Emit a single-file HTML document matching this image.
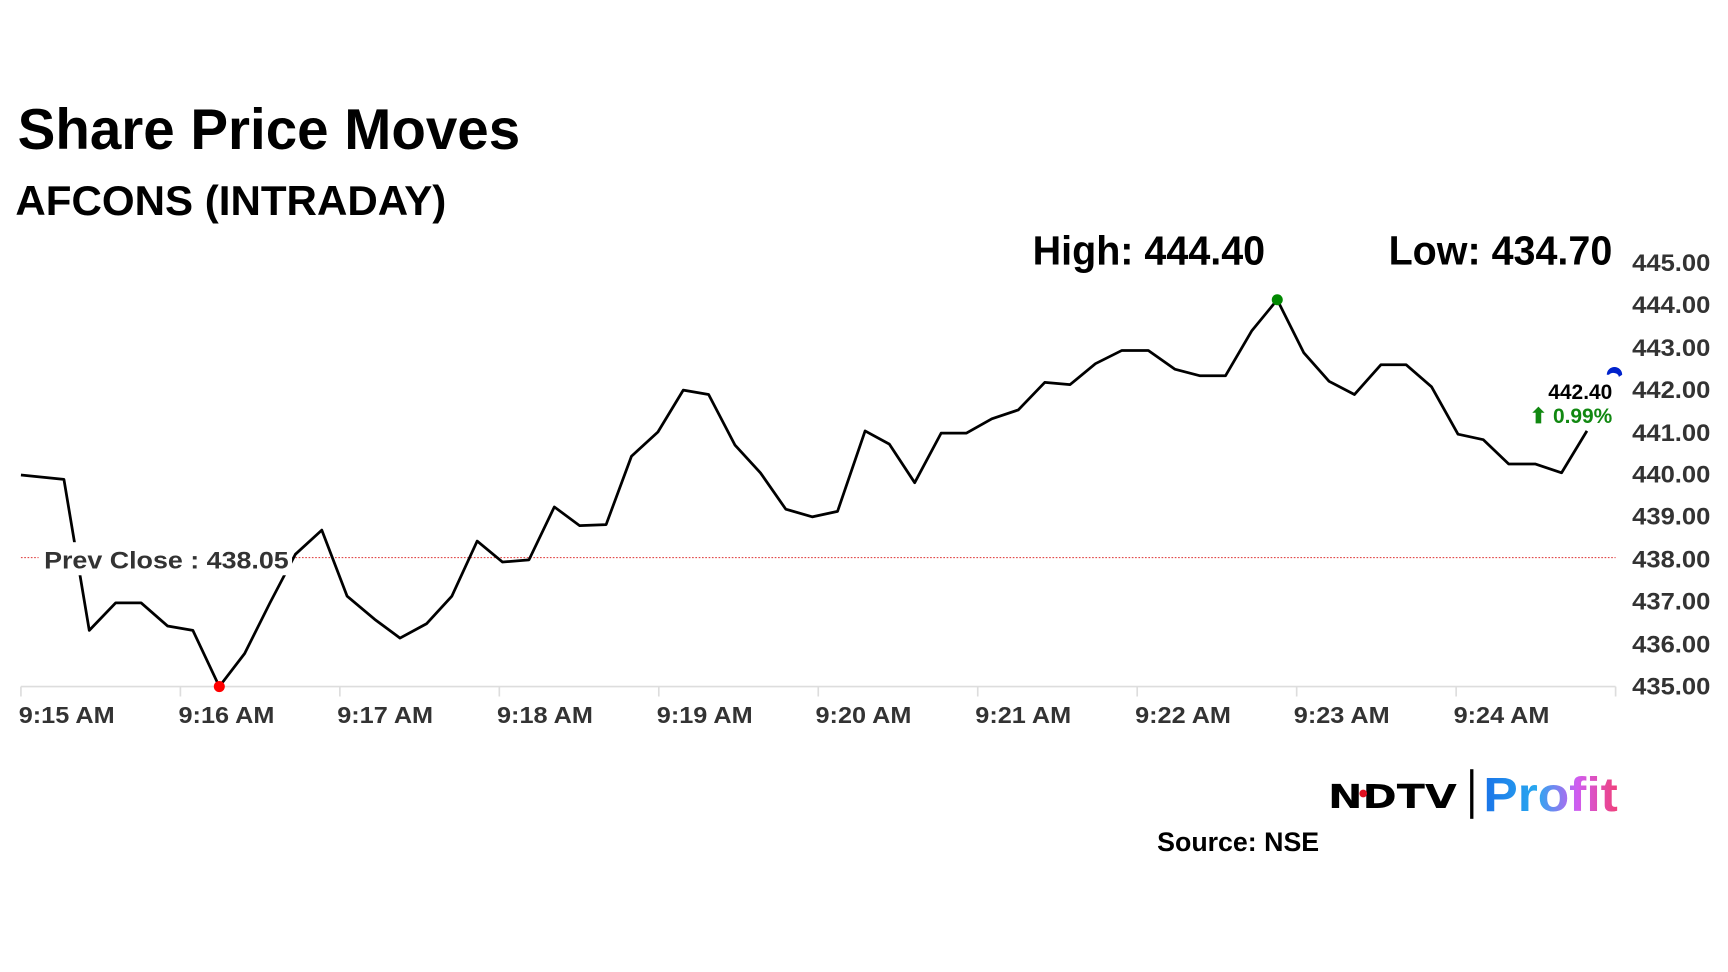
<!DOCTYPE html>
<html><head><meta charset="utf-8"><style>
html,body{margin:0;padding:0;background:#fff;width:1728px;height:972px;overflow:hidden}
svg{display:block}
text{font-family:"Liberation Sans",sans-serif;font-weight:bold}
</style></head><body>
<svg width="1728" height="972" viewBox="0 0 1568 882" xmlns="http://www.w3.org/2000/svg">
<defs><linearGradient id="g" x1="0" x2="1" y1="0" y2="0"><stop offset="0" stop-color="#1a73e8"/><stop offset="0.4" stop-color="#29a9f0"/><stop offset="0.7" stop-color="#d05cf0"/><stop offset="1" stop-color="#f0407a"/></linearGradient></defs>
<rect width="1568" height="882" fill="#fff"/>
<text x="16" y="135" font-size="52" textLength="456" lengthAdjust="spacingAndGlyphs" fill="#000">Share Price Moves</text>
<text x="14" y="195" font-size="38" textLength="391" lengthAdjust="spacingAndGlyphs" fill="#000">AFCONS (INTRADAY)</text>
<text x="937" y="240" font-size="37" textLength="211" lengthAdjust="spacingAndGlyphs" fill="#000">High: 444.40</text>
<text x="1260" y="240" font-size="37" textLength="203" lengthAdjust="spacingAndGlyphs" fill="#000">Low: 434.70</text>
<g font-size="22" fill="#333">
<text x="1481" y="246" textLength="71" lengthAdjust="spacingAndGlyphs">445.00</text><text x="1481" y="284" textLength="71" lengthAdjust="spacingAndGlyphs">444.00</text><text x="1481" y="323" textLength="71" lengthAdjust="spacingAndGlyphs">443.00</text><text x="1481" y="361" textLength="71" lengthAdjust="spacingAndGlyphs">442.00</text><text x="1481" y="400" textLength="71" lengthAdjust="spacingAndGlyphs">441.00</text><text x="1481" y="438" textLength="71" lengthAdjust="spacingAndGlyphs">440.00</text><text x="1481" y="476" textLength="71" lengthAdjust="spacingAndGlyphs">439.00</text><text x="1481" y="515" textLength="71" lengthAdjust="spacingAndGlyphs">438.00</text><text x="1481" y="553" textLength="71" lengthAdjust="spacingAndGlyphs">437.00</text><text x="1481" y="592" textLength="71" lengthAdjust="spacingAndGlyphs">436.00</text><text x="1481" y="630" textLength="71" lengthAdjust="spacingAndGlyphs">435.00</text>
</g>
<line x1="19" y1="623" x2="1466" y2="623" stroke="#ddd" stroke-width="1.5"/>
<g stroke="#ddd" stroke-width="1.5">
<line x1="19" y1="623" x2="19" y2="632"/><line x1="163.7" y1="623" x2="163.7" y2="632"/><line x1="308.4" y1="623" x2="308.4" y2="632"/><line x1="453.1" y1="623" x2="453.1" y2="632"/><line x1="597.8" y1="623" x2="597.8" y2="632"/><line x1="742.5" y1="623" x2="742.5" y2="632"/><line x1="887.2" y1="623" x2="887.2" y2="632"/><line x1="1031.9" y1="623" x2="1031.9" y2="632"/><line x1="1176.6" y1="623" x2="1176.6" y2="632"/><line x1="1321.3" y1="623" x2="1321.3" y2="632"/><line x1="1466" y1="623" x2="1466" y2="632"/>
</g>
<g font-size="21" fill="#333">
<text x="17" y="656" textLength="87" lengthAdjust="spacingAndGlyphs">9:15 AM</text>
<text x="162" y="656" textLength="87" lengthAdjust="spacingAndGlyphs">9:16 AM</text>
<text x="306" y="656" textLength="87" lengthAdjust="spacingAndGlyphs">9:17 AM</text>
<text x="451" y="656" textLength="87" lengthAdjust="spacingAndGlyphs">9:18 AM</text>
<text x="596" y="656" textLength="87" lengthAdjust="spacingAndGlyphs">9:19 AM</text>
<text x="740" y="656" textLength="87" lengthAdjust="spacingAndGlyphs">9:20 AM</text>
<text x="885" y="656" textLength="87" lengthAdjust="spacingAndGlyphs">9:21 AM</text>
<text x="1030" y="656" textLength="87" lengthAdjust="spacingAndGlyphs">9:22 AM</text>
<text x="1174" y="656" textLength="87" lengthAdjust="spacingAndGlyphs">9:23 AM</text>
<text x="1319" y="656" textLength="87" lengthAdjust="spacingAndGlyphs">9:24 AM</text>
</g>
<line x1="19" y1="506" x2="1466" y2="506" stroke="#d33" stroke-width="1" stroke-dasharray="1.5,1.5"/>
<polyline fill="none" stroke="#000" stroke-width="2.5" stroke-linejoin="round" points="19,431 58,435 81,572 105,547 128,547 152,568 175,572 199,623 222,593 245,547 268,503 292,481 315,541 340,562 363,579 387,566 410,541 433,491 456,510 480,508 503,460 526,477 550,476 573,414 597,392 620,354 643,358 667,404 690,429 713,462 737,469 760,464 785,391 807,403 830,438 854,393 877,393 900,380 924,372 948,347 971,349 994,330 1018,318 1042,318 1066,335 1089,341 1112,341 1136,300 1159,272 1183,320 1206,346 1229,358 1253,331 1276,331 1299,351 1323,394 1346,399 1369,421 1393,421 1417,429 1440,391"/>
<rect x="35" y="492" width="230" height="30" fill="#fff"/>
<text x="40" y="516" font-size="22" fill="#333" textLength="222" lengthAdjust="spacingAndGlyphs">Prev Close : 438.05</text>
<circle cx="199" cy="623" r="5" fill="#f00"/>
<circle cx="1159" cy="272" r="5" fill="#080"/>
<path d="M1458,340 A7,7 0 0 1 1472,340 L1469,342 A5,4 0 0 0 1460,340 Z" fill="#0022cc"/>
<text x="1463" y="362" font-size="19" fill="#000" text-anchor="end">442.40</text>
<text x="1463" y="384" font-size="19" fill="#118811" text-anchor="end">⬆ 0.99%</text>
<text x="1205" y="733" font-size="30" fill="#000" textLength="117" lengthAdjust="spacingAndGlyphs" style="font-family:'DejaVu Sans',sans-serif;font-weight:bold">NDTV</text>
<circle cx="1237" cy="720" r="3.5" fill="#e01020"/>
<rect x="1334" y="698" width="3" height="45" fill="#000"/>
<text x="1346" y="736" font-size="44" fill="url(#g)" textLength="122" lengthAdjust="spacingAndGlyphs">Profit</text>
<text x="1050" y="772" font-size="24" fill="#000" textLength="147" lengthAdjust="spacingAndGlyphs">Source: NSE</text>
</svg>
</body></html>
